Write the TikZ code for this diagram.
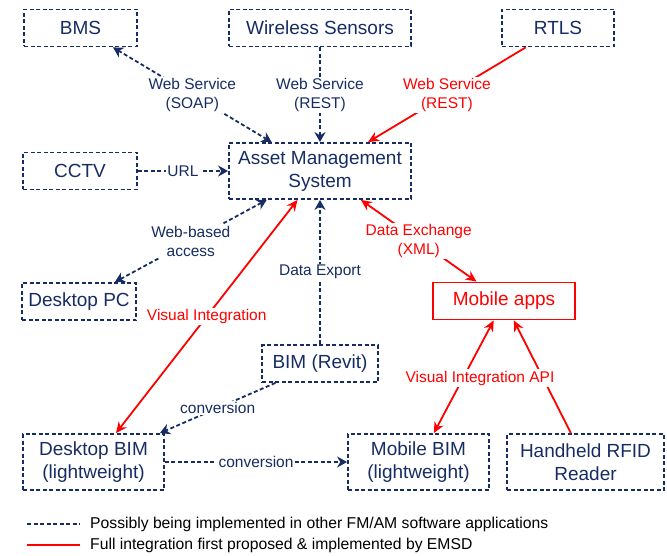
\documentclass[tikz,border=0pt]{standalone}
\usepackage{fontspec}
\setmainfont{Liberation Sans}
\usetikzlibrary{arrows.meta}
\definecolor{navy}{RGB}{22,44,98}
\begin{document}
\begin{tikzpicture}[x=1pt,y=-1pt]
        % Estilos de cajas y enlaces
        \tikzset{
            caja/.style={draw=navy, text=navy, line width=1.8pt, dash pattern=on 4pt off 2.5pt,
                minimum height=37, align=center, inner sep=0, font=\fontsize{19}{23}\selectfont},
            cajaroja/.style={caja, draw=red, text=red, solid},
            enlace/.style={navy, line width=1.8pt, dash pattern=on 4pt off 2.5pt,
                {Stealth[length=10pt,width=11pt]}-{Stealth[length=10pt,width=11pt]}},
            enlaceuno/.style={enlace, -{Stealth[length=10pt,width=11pt]}},
            directo/.style={red, line width=1.8pt, solid,
                {Stealth[length=11pt,width=10pt]}-{Stealth[length=11pt,width=10pt]}},
            directouno/.style={directo, -{Stealth[length=11pt,width=10pt]}},
            etiq/.style={fill=white, text=navy, inner sep=1.5pt, align=center, font=\fontsize{15.5}{19}\selectfont},
            etiqroja/.style={etiq, text=red}
        }
        \useasboundingbox (0,0) rectangle (667,556);

        % --- SISTEMAS ---
        \node[caja, minimum width=113] (bms) at (80.5,28) {BMS};
        \node[caja, minimum width=182] (wsn) at (320,28) {Wireless Sensors};
        \node[caja, minimum width=112] (rtls) at (558,28) {RTLS};
        \node[caja, minimum width=114] (cctv) at (80,171) {CCTV};
        \node[caja, minimum width=182, minimum height=56] (ams) at (320,171) {Asset Management\\System};
        \node[caja, minimum width=114] (pc) at (79,301.5) {Desktop PC};
        \node[cajaroja, minimum width=142] (apps) at (504,301) {Mobile apps};
        \node[caja, minimum width=116] (revit) at (320,363.5) {BIM (Revit)};
        \node[caja, minimum width=141, minimum height=56] (dbim) at (93.5,462) {Desktop BIM\\(lightweight)};
        \node[caja, minimum width=141, minimum height=56] (mbim) at (418.5,462) {Mobile BIM\\(lightweight)};
        \node[caja, minimum width=157, minimum height=56] (rfid) at (585.5,462) {Handheld RFID\\Reader};

        % --- ENLACES ---
        \draw[enlace] (bms) -- (ams) node[etiq, midway] {Web Service\\(SOAP)};
        \draw[enlaceuno] (wsn) -- (ams) node[etiq, midway] {Web Service\\(REST)};
        \draw[directouno] (rtls) -- (ams) node[etiqroja, midway] {Web Service\\(REST)};
        \draw[enlaceuno] (cctv) -- (ams) node[etiq, midway] {URL};
        \draw[enlace] (ams) -- (pc) node[etiq, midway] {Web-based\\access};
        \draw[directo] (ams) -- (dbim) node[etiqroja, midway] {Visual Integration};
        \draw[enlaceuno] (revit) -- (ams) node[etiq, midway] {Data Export};
        \draw[directo] (ams) -- (apps) node[etiqroja, midway] {Data Exchange\\(XML)};
        \draw[enlaceuno] (revit) -- (dbim) node[etiq, midway] {conversion};
        \draw[enlaceuno] (dbim) -- (mbim) node[etiq, midway] {conversion};
        \draw[directo] (apps) -- (mbim);
        \draw[directouno] (rfid) -- (apps);
        \node[etiqroja] (api) at (480,378) {Visual Integration API};

        % --- LEYENDA ---
        \coordinate (l1a) at (27,524);
        \coordinate (l1b) at (80,524);
        \coordinate (l2a) at (27,545);
        \coordinate (l2b) at (80,545);
        \draw[navy, line width=1.8pt, dash pattern=on 4pt off 2.5pt] (l1a) -- (l1b);
        \draw[red, line width=1.8pt] (l2a) -- (l2b);
        \node[anchor=west, inner sep=0, font=\fontsize{15.7}{18}\selectfont] (ley1) at (90,524) {Possibly being implemented in other FM/AM software applications};
        \node[anchor=west, inner sep=0, font=\fontsize{15.7}{18}\selectfont] (ley2) at (90,545) {Full integration first proposed \& implemented by EMSD};
    \end{tikzpicture}
\end{document}
